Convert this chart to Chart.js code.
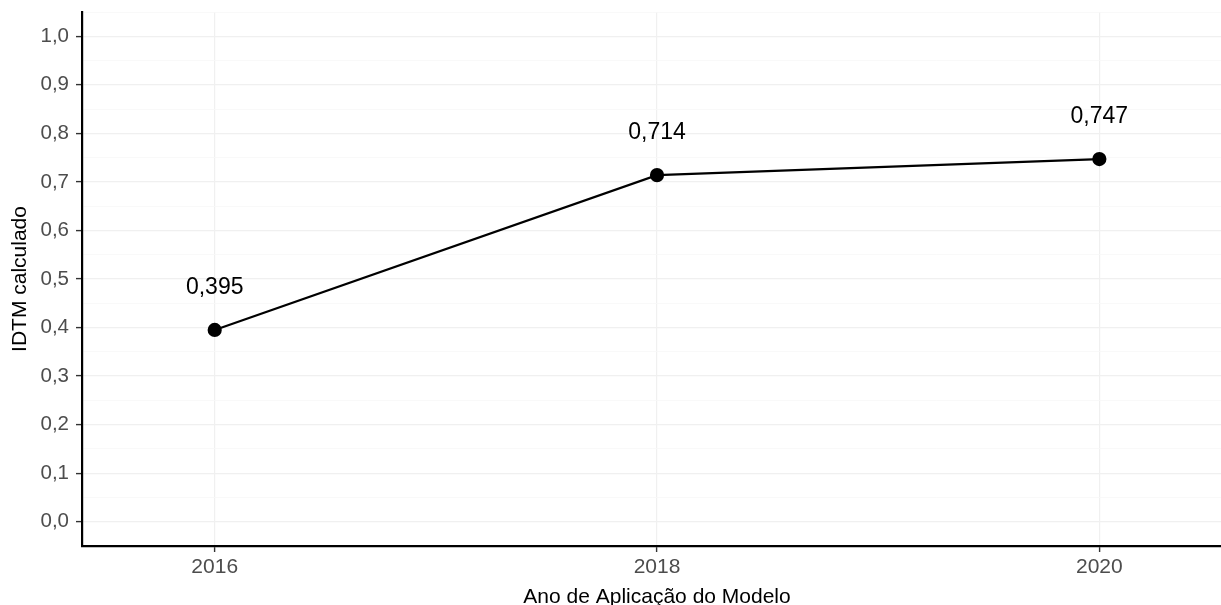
<!DOCTYPE html>
<html lang="pt">
<head>
  <meta charset="UTF-8" />
  <title>IDTM calculado</title>
  <script src="https://cdn.jsdelivr.net/npm/chart.js"></script>
  <style>
    body { margin: 0; padding: 0; background: #fff; }
    #wrap { width: 1221px; height: 605px; }
  </style>
</head>
<body>
  <div id="wrap"><canvas id="idtmChart"></canvas></div>

  <script>
    // dados
    const anos = [2016, 2018, 2020];
    const idtm = [0.395, 0.714, 0.747];
    const rotulos = ['0,395', '0,714', '0,747'];
    const xTicks = [2016, 2018, 2020];
    const yTicks = [-0.05, 0, 0.05, 0.1, 0.15, 0.2, 0.25, 0.3, 0.35, 0.4, 0.45, 0.5,
                    0.55, 0.6, 0.65, 0.7, 0.75, 0.8, 0.85, 0.9, 0.95, 1.0, 1.05];
    const tituloX = 'Ano de Aplicação do Modelo';

    const fonte = '"Liberation Sans", Arial, sans-serif';
    const isMajor = v => Math.abs(Math.round(v * 10) - v * 10) < 1e-6 && v > -0.01 && v < 1.01;

    // rotulos dos pontos + titulo do eixo x (centrado no painel do ggplot, que passa da borda)
    const textos = {
      id: 'textos',
      afterDatasetsDraw(chart) {
        const { ctx, scales } = chart;
        ctx.save();
        ctx.font = '23px ' + fonte;
        ctx.fillStyle = '#000';
        ctx.textAlign = 'center';
        ctx.textBaseline = 'middle';
        anos.forEach((a, i) => {
          ctx.fillText(rotulos[i], scales.x.getPixelForValue(a), scales.y.getPixelForValue(idtm[i]) - 42);
        });
        ctx.font = '21px ' + fonte;
        ctx.textBaseline = 'alphabetic';
        ctx.fillText(tituloX, scales.x.getPixelForValue(2018), 603);
        ctx.restore();
      }
    };

    new Chart(document.getElementById('idtmChart').getContext('2d'), {
      type: 'line',
      data: {
        datasets: [{
          data: anos.map((a, i) => ({ x: a, y: idtm[i] })),
          borderColor: '#000',
          borderWidth: 2.2,
          backgroundColor: '#000',
          pointRadius: 6,
          pointHoverRadius: 6,
          tension: 0,
          clip: false
        }]
      },
      options: {
        responsive: true,
        maintainAspectRatio: false,
        animation: false,
        layout: { autoPadding: false, padding: { top: 12, right: 0, left: 0, bottom: 0 } },
        plugins: { legend: { display: false }, tooltip: { enabled: false } },
        scales: {
          x: {
            type: 'linear',
            min: 2015.4,
            max: 2020.55,
            afterBuildTicks: s => { s.ticks = xTicks.map(v => ({ value: v })); },
            afterFit: s => { s.height = 59; s.paddingLeft = 0; s.paddingRight = 0; },
            ticks: {
              color: '#4d4d4d',
              font: { family: fonte, size: 21 },
              padding: 3,
              maxRotation: 0,
              callback: v => String(v)
            },
            grid: { color: '#f0f0f0', lineWidth: 1.2, tickLength: 6, tickColor: '#333', tickWidth: 1.4 },
            border: { display: true, color: '#000', width: 2.2 }
          },
          y: {
            min: -0.05,
            max: 1.05,
            afterBuildTicks: s => { s.ticks = yTicks.map(v => ({ value: v })); },
            afterFit: s => { s.width = 82; s.paddingTop = 0; s.paddingBottom = 0; },
            ticks: {
              color: '#4d4d4d',
              font: { family: fonte, size: 20.5 },
              padding: 7,
              autoSkip: false,
              callback: v => isMajor(v) ? v.toFixed(1).replace('.', ',') : ''
            },
            grid: {
              color: c => isMajor(c.tick.value) ? '#f0f0f0' : '#f7f7f7',
              lineWidth: c => isMajor(c.tick.value) ? 1.2 : 0.8,
              tickLength: 6,
              tickColor: c => isMajor(c.tick.value) ? '#333' : 'rgba(0,0,0,0)',
              tickWidth: 1.4
            },
            border: { display: true, color: '#000', width: 2.2 },
            title: {
              display: true,
              text: 'IDTM calculado',
              color: '#000',
              font: { family: fonte, size: 21, lineHeight: 0.9 },
              padding: { top: 11, bottom: 0 }
            }
          }
        }
      },
      plugins: [textos]
    });
  </script>
</body>
</html>
